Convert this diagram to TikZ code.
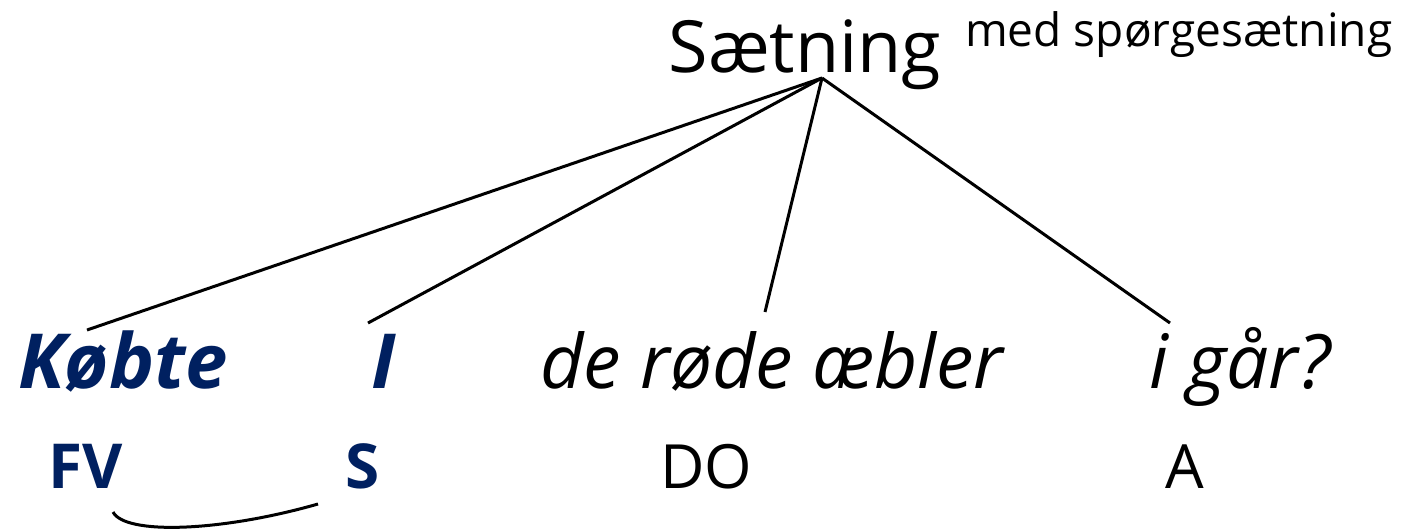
\documentclass[tikz,border=0pt]{standalone}
\usepackage{fontspec}
\setmainfont{Open Sans}
\definecolor{navy}{HTML}{002060}
\begin{document}
\begin{tikzpicture}[x=1pt,y=-1pt,
  lbl/.style={inner sep=0pt,anchor=base},
  navyb/.style={lbl,text=navy,font=\fontsize{76}{78}\selectfont\bfseries\itshape},
  itl/.style={lbl,font=\fontsize{75}{78}\selectfont\itshape},
  fnb/.style={lbl,text=navy,font=\fontsize{62}{64}\selectfont\bfseries},
  fn/.style={lbl,font=\fontsize{61}{64}\selectfont},
  edge/.style={line width=3pt}]
\useasboundingbox (0,0) rectangle (1410,531);
\node[lbl,font=\fontsize{72}{74}\selectfont] (root) at (805,72) {Sætning};
\node[lbl,anchor=base west,font=\fontsize{46}{48}\selectfont] (sub) at (965,46) {med spørgesætning};
\coordinate (top) at (822,78);
\node[navyb] (kobte) at (123,388) {Købte};
\node[navyb] (I) at (384,388) {I};
\node[itl] (de) at (772,388) {de røde æbler};
\node[itl] (igaar) at (1240,388) {i går?};
\node[fnb] (FV) at (86,488) {FV};
\node[fnb] (S) at (363,488) {S};
\node[fn] (DO) at (706,488) {DO};
\node[fn] (A) at (1185,488) {A};
\coordinate (e1) at (87,330);
\coordinate (e2) at (368,323);
\coordinate (e3) at (765,312);
\coordinate (e4) at (1170,323);
\draw[edge] (top) -- (e1);
\draw[edge] (top) -- (e2);
\draw[edge] (top) -- (e3);
\draw[edge] (top) -- (e4);
\coordinate (c1) at (113,512);
\coordinate (c2) at (318,504);
\draw[edge] (c1) .. controls (125,535) and (220,532) .. (c2);
\end{tikzpicture}
\end{document}
